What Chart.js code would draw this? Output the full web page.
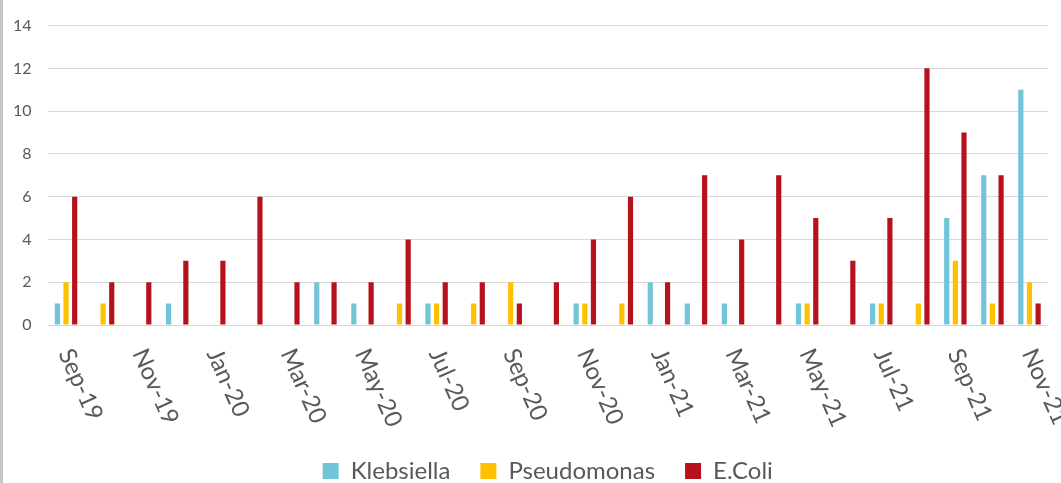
<!DOCTYPE html>
<html>
<head>
<meta charset="utf-8">
<title>Monthly isolates: Klebsiella, Pseudomonas, E.Coli</title>
<script src="https://cdn.jsdelivr.net/npm/chart.js@4/dist/chart.umd.min.js"></script>
<style>
  html, body { margin: 0; padding: 0; background: #ffffff; overflow: hidden; }
  #wrap { position: relative; width: 1061px; height: 483px; }
</style>
</head>
<body>
<div id="wrap"><canvas id="chart" width="1061" height="483"></canvas></div>
<script>
// Months, Sep 2019 to Nov 2021
const months = [
  'Sep-19','Oct-19','Nov-19','Dec-19',
  'Jan-20','Feb-20','Mar-20','Apr-20','May-20','Jun-20','Jul-20','Aug-20','Sep-20','Oct-20','Nov-20','Dec-20',
  'Jan-21','Feb-21','Mar-21','Apr-21','May-21','Jun-21','Jul-21','Aug-21','Sep-21','Oct-21','Nov-21'
];

// Isolate counts per month
const klebsiella   = [1,0,0,1,0,0,0,2,1,0,1,0,0,0,1,0,2,1,1,0,1,0,1,0,5,7,11];
const pseudomonas  = [2,1,0,0,0,0,0,0,0,1,1,1,2,0,1,1,0,0,0,0,1,0,1,1,3,1,2];
const ecoli        = [6,2,2,3,3,6,2,2,2,4,2,2,1,2,4,6,2,7,4,7,5,3,5,12,9,7,1];

// Y axis ticks
const yTicks = [0, 2, 4, 6, 8, 10, 12, 14];

const seriesNames  = ['Klebsiella', 'Pseudomonas', 'E.Coli'];
const seriesColors = ['#72c4d8', '#ffc000', '#b5121b'];

const FONT = 'Lato, "Open Sans", sans-serif';
const TEXT = '#595959';

// Month labels, every second month, slanted downward to the right
const slantedMonthLabels = {
  id: 'slantedMonthLabels',
  afterDraw(chart) {
    const { ctx, scales: { x } } = chart;
    ctx.save();
    ctx.fillStyle = TEXT;
    ctx.font = '24px ' + FONT;
    ctx.textAlign = 'left';
    ctx.textBaseline = 'middle';
    months.forEach((m, i) => {
      if (i % 2 !== 0) return;
      const px = x.getPixelForValue(i);
      ctx.save();
      ctx.translate(px - 1, x.top + 25);
      ctx.rotate(66 * Math.PI / 180);
      ctx.fillText(m, 0, 0);
      ctx.restore();
    });
    ctx.restore();
  }
};

// White background and the frame line down the left side
const frame = {
  id: 'frame',
  beforeDraw(chart) {
    const { ctx, width, height } = chart;
    ctx.save();
    ctx.fillStyle = '#ffffff';
    ctx.fillRect(0, 0, width, height);
    ctx.fillStyle = '#c6c6c6';
    ctx.fillRect(0, 0, 3, height);
    ctx.restore();
  }
};

new Chart(document.getElementById('chart'), {
  type: 'bar',
  data: {
    labels: months,
    datasets: [klebsiella, pseudomonas, ecoli].map((d, k) => ({
      label: seriesNames[k],
      data: d,
      backgroundColor: seriesColors[k],
      borderWidth: 0,
      categoryPercentage: 0.70,
      barPercentage: 0.60
    }))
  },
  options: {
    responsive: false,
    animation: false,
    devicePixelRatio: 1,
    layout: { padding: { top: 16, right: 13, left: 0, bottom: -10 } },
    plugins: {
      legend: {
        position: 'bottom',
        fullSize: false,
        labels: {
          color: TEXT,
          font: { family: FONT, size: 24, lineHeight: 1 },
          boxWidth: 16,
          boxHeight: 16,
          padding: 30
        }
      },
      tooltip: { enabled: false }
    },
    scales: {
      x: {
        grid: { display: false },
        border: { display: false },
        ticks: { display: false },
        afterFit(scale) { scale.height = 104; }
      },
      y: {
        min: 0,
        max: 14,
        afterBuildTicks(scale) { scale.ticks = yTicks.map(v => ({ value: v })); },
        afterFit(scale) { scale.width = 47.5; },
        grid: { color: '#d9d9d9', lineWidth: 1, drawTicks: false },
        border: { display: false },
        ticks: { color: TEXT, font: { family: FONT, size: 16 }, padding: 16 }
      }
    }
  },
  plugins: [frame, slantedMonthLabels]
});
</script>
</body>
</html>
